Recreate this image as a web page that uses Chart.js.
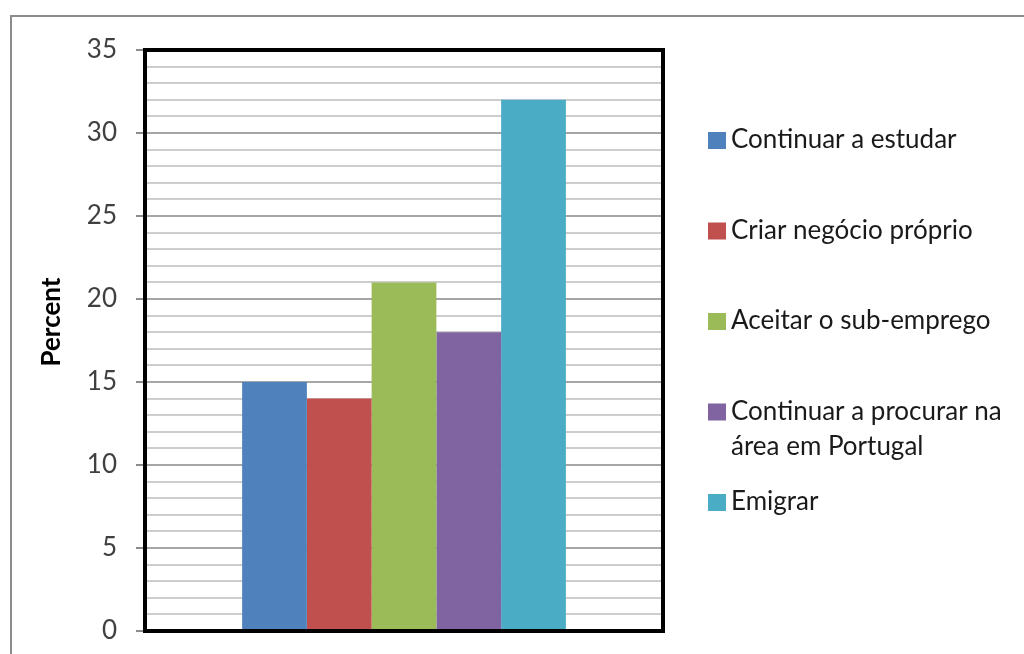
<!DOCTYPE html>
<html>
<head>
<meta charset="utf-8">
<script src="https://cdn.jsdelivr.net/npm/chart.js@4.4.0/dist/chart.umd.min.js"></script>
<style>
  html, body { margin: 0; padding: 0; background: #fff; }
  #wrap { width: 1024px; height: 654px; }
</style>
</head>
<body>
<div id="wrap"><canvas id="chart" width="1024" height="654"></canvas></div>
<script>
// Options chosen after finishing studies
const categories = [''];
const seriesNames = [
    'Continuar a estudar',
    'Criar negócio próprio',
    'Aceitar o sub-emprego',
    'Continuar a procurar na área em Portugal',
    'Emigrar'
];
const seriesValues = [15, 14, 21, 18, 32];
const seriesColors = ['#4F81BD', '#C0504D', '#9BBB59', '#8064A2', '#4BACC6'];
const yMax = 35;
const yMajorStep = 5;
const yAxisTitle = 'Percent';

const fontFamily = 'Lato, "Open Sans", sans-serif';

// Gray frame around the chart, thick black box round the plot, axis title and legend
const decorations = {
    id: 'decorations',
    beforeDraw(chart) {
        const ctx = chart.ctx;
        ctx.save();
        ctx.fillStyle = '#fff';
        ctx.fillRect(0, 0, chart.width, chart.height);
        ctx.strokeStyle = '#8c8c8c';
        ctx.lineWidth = 2;
        ctx.strokeRect(11, 16, chart.width + 40, chart.height + 40);
        ctx.restore();
    },
    afterDatasetsDraw(chart) {
        const ctx = chart.ctx;
        const a = chart.chartArea;
        ctx.save();
        ctx.strokeStyle = '#000';
        ctx.lineWidth = 4;
        ctx.strokeRect(a.left, a.top, a.right - a.left, a.bottom - a.top);
        ctx.restore();
    },
    afterDraw(chart) {
        const ctx = chart.ctx;
        const a = chart.chartArea;
        ctx.save();

        // y axis title
        ctx.translate(52, 322);
        ctx.rotate(-Math.PI / 2);
        ctx.font = 'bold 26px ' + fontFamily;
        ctx.fillStyle = '#000';
        ctx.textAlign = 'center';
        ctx.textBaseline = 'middle';
        ctx.fillText(yAxisTitle, 0, 0);
        ctx.setTransform(1, 0, 0, 1, 0, 0);

        // legend on the right
        ctx.font = '26px ' + fontFamily;
        ctx.textAlign = 'left';
        ctx.textBaseline = 'middle';
        const boxX = a.right + 45;
        const textX = boxX + 23;
        const maxWidth = chart.width - textX - 6;
        chart.data.datasets.forEach((ds, i) => {
            const y = 140 + i * 90.5;
            ctx.fillStyle = ds.backgroundColor;
            ctx.fillRect(boxX, y - 8, 18, 17);

            // wrap long names onto several lines
            const words = ds.label.split(' ');
            const lines = [];
            let line = '';
            words.forEach(w => {
                const test = line ? line + ' ' + w : w;
                if (line && ctx.measureText(test).width > maxWidth) {
                    lines.push(line);
                    line = w;
                } else {
                    line = test;
                }
            });
            lines.push(line);

            ctx.fillStyle = '#1a1a1a';
            lines.forEach((l, k) => ctx.fillText(l, textX, y + k * 35));
        });
        ctx.restore();
    }
};

const ctx = document.getElementById('chart').getContext('2d');

const chart = new Chart(ctx, {
    type: 'bar',
    data: {
        labels: categories,
        datasets: seriesNames.map((name, i) => ({
            label: name,
            data: [seriesValues[i]],
            backgroundColor: seriesColors[i],
            borderWidth: 0,
            categoryPercentage: 0.625,
            barPercentage: 1
        }))
    },
    options: {
        responsive: false,
        animation: false,
        layout: {
            padding: { left: 0, right: 361, top: 50, bottom: 23 }
        },
        plugins: {
            legend: { display: false },
            tooltip: { enabled: false }
        },
        scales: {
            x: {
                display: false
            },
            y: {
                min: 0,
                max: yMax,
                afterFit(scale) {
                    scale.width = 145;
                    scale.paddingTop = 0;
                    scale.paddingBottom = 0;
                },
                ticks: {
                    stepSize: 1,
                    autoSkip: false,
                    padding: 19,
                    color: '#404040',
                    font: { family: fontFamily, size: 26 },
                    callback: v => (v % yMajorStep === 0 ? v : '')
                },
                grid: {
                    color: c => (c.tick && c.tick.value % yMajorStep === 0 ? '#a6a6a6' : '#cdcdcd'),
                    tickColor: c => (c.tick && c.tick.value % yMajorStep === 0 ? '#8c8c8c' : 'rgba(0,0,0,0)'),
                    tickLength: 9,
                    lineWidth: 2
                },
                border: { display: false }
            }
        }
    },
    plugins: [decorations]
});
</script>
</body>
</html>
